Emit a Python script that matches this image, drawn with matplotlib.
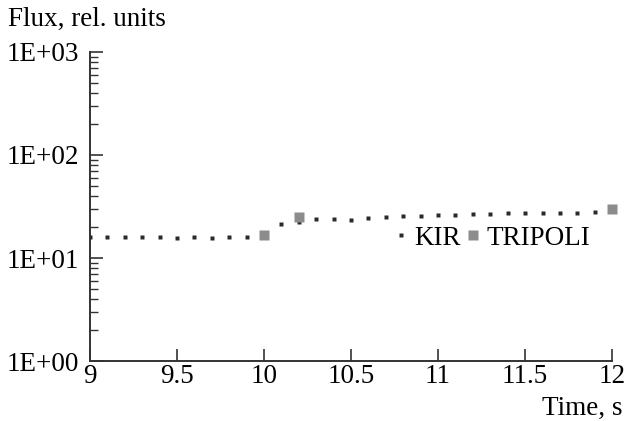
import matplotlib
matplotlib.use("Agg")
import matplotlib.pyplot as plt
from matplotlib.ticker import FixedLocator, LogLocator, NullFormatter

plt.rcParams["font.family"] = ["Liberation Serif", "DejaVu Serif"]

# ── data ─────────────────────────────────────────────────────────────────────
kir_t = [9.0, 9.1, 9.2, 9.3, 9.4, 9.5, 9.6, 9.7, 9.8, 9.9,
         10.0, 10.1, 10.2, 10.3, 10.4, 10.5, 10.6, 10.7, 10.8, 10.9,
         11.0, 11.1, 11.2, 11.3, 11.4, 11.5, 11.6, 11.7, 11.8, 11.9]
kir_flux = [16.0, 16.1, 16.0, 15.9, 15.9, 15.8, 15.9, 15.8, 15.9, 16.0,
            16.4, 21.4, 22.5, 23.9, 23.9, 23.5, 24.6, 25.2, 25.7, 25.3,
            25.9, 26.2, 26.5, 26.5, 27.5, 27.3, 27.3, 27.3, 27.5, 28.2]

tripoli_t = [10.0, 10.2, 12.0]
tripoli_flux = [16.9, 25.2, 29.6]

x_ticks = [9, 9.5, 10, 10.5, 11, 11.5, 12]
x_labels = ["9", "9.5", "10", "10.5", "11", "11.5", "12"]
y_ticks = [1, 10, 100, 1000]
y_labels = ["1E+00", "1E+01", "1E+02", "1E+03"]

FS = 19.5

fig = plt.figure(figsize=(6.35, 4.21), dpi=100)
ax = fig.add_axes([0.1417, 0.1425, 0.8223, 0.734])

ax.plot(kir_t, kir_flux, ls="none", marker="s", ms=2.4, color="#2a2a2a",
        mec="none", label="KIR", zorder=3)
ax.plot(tripoli_t, tripoli_flux, ls="none", marker="s", ms=6.5,
        color="#8c8c8c", mec="none", label="TRIPOLI", zorder=4,
        clip_on=False)

ax.set_yscale("log")
ax.set_xlim(9, 12)
ax.set_ylim(1, 1000)

ax.xaxis.set_major_locator(FixedLocator(x_ticks))
ax.set_xticklabels(x_labels)
ax.yaxis.set_major_locator(FixedLocator(y_ticks))
ax.set_yticklabels(y_labels)
ax.yaxis.set_minor_locator(LogLocator(base=10, subs=range(2, 10)))
ax.yaxis.set_minor_formatter(NullFormatter())

for s in ("top", "right"):
    ax.spines[s].set_visible(False)
for s in ("left", "bottom"):
    ax.spines[s].set_linewidth(1.4)
    ax.spines[s].set_color("#333333")

ax.tick_params(axis="both", which="major", direction="in", length=9,
               width=1.2, color="#333333", labelsize=FS)
ax.tick_params(axis="y", which="minor", direction="in", length=6,
               width=1.0, color="#333333")
ax.tick_params(axis="x", pad=2)
ax.tick_params(axis="y", pad=8)

fig.text(0.013, 0.955, "Flux, rel. units", fontsize=FS, ha="left",
         va="center")
fig.text(0.98, 0.03, "Time, s", fontsize=FS, ha="right", va="center")

ax.legend(loc="center", bbox_to_anchor=(0.772, 0.398), ncol=2,
          frameon=False, fontsize=FS, handlelength=0.4, handletextpad=0.3,
          columnspacing=0.25, borderpad=0, borderaxespad=0)

fig.savefig("out.png", dpi=100)
